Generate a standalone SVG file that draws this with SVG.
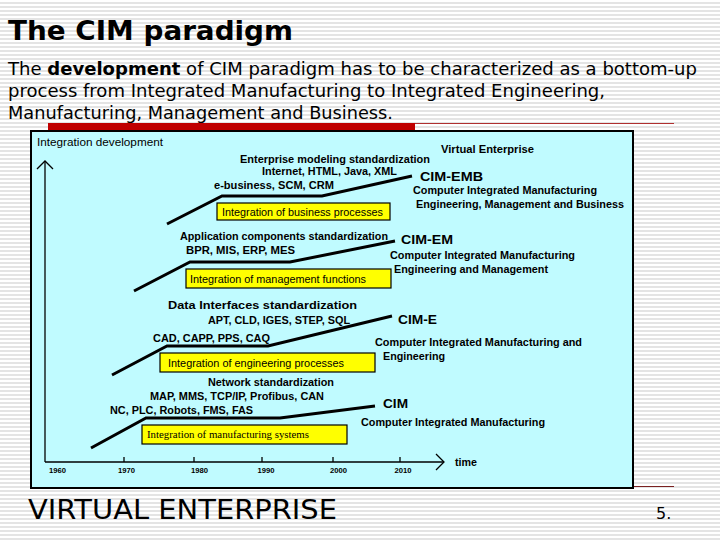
<svg xmlns="http://www.w3.org/2000/svg" width="720" height="540" viewBox="0 0 720 540">
<defs>
<pattern id="stripes" x="0" y="0" width="8" height="4" patternUnits="userSpaceOnUse">
<rect x="0" y="0" width="8" height="4" fill="#ffffff"/>
<rect x="0" y="2" width="8" height="2" fill="#e4e4e4"/>
</pattern>
</defs>
<style>
.head{font-family:"DejaVu Sans","Liberation Sans",sans-serif;fill:#000}
.lb{font-family:"Liberation Sans",Arial,sans-serif;font-weight:bold;font-size:10.5px;fill:#000}
.big{font-family:"Liberation Sans",Arial,sans-serif;font-weight:bold;font-size:13px;fill:#000}
.yr{font-family:"Liberation Sans",Arial,sans-serif;font-weight:bold;font-size:8px;fill:#000}
.nl{font-family:"Liberation Sans",Arial,sans-serif;font-size:10.5px;fill:#000}
.ybox{fill:#ffff00;stroke:#000;stroke-width:1.2}
.curve{fill:none;stroke:#000;stroke-width:3;stroke-linejoin:miter}
.axis{fill:none;stroke:#000;stroke-width:1.3}
</style>
<rect x="0" y="0" width="720" height="540" fill="url(#stripes)"/>
<text class="head" x="8" y="40" font-size="26" font-weight="bold" textLength="285" lengthAdjust="spacingAndGlyphs">The CIM paradigm</text>
<text class="head" x="8" y="75" font-size="17" textLength="689" lengthAdjust="spacingAndGlyphs">The <tspan font-weight="bold">development</tspan> of CIM paradigm has to be characterized as a bottom-up</text>
<text class="head" x="8" y="97" font-size="17" textLength="597" lengthAdjust="spacingAndGlyphs">process from Integrated Manufacturing to Integrated Engineering,</text>
<text class="head" x="8" y="119" font-size="17" textLength="385" lengthAdjust="spacingAndGlyphs">Manufacturing, Management and Business.</text>
<rect x="48" y="123" width="367" height="7" fill="#c00000"/>
<line x1="415" y1="123.5" x2="674" y2="123.5" stroke="#b03030" stroke-width="1"/>
<line x1="632" y1="486.5" x2="674" y2="486.5" stroke="#7a2020" stroke-width="1"/>
<rect id="panel" x="31" y="131" width="602" height="357" fill="#c0fbff" stroke="#000" stroke-width="2"/>

<g id="connectors">
<polyline class="curve" points="91,448 146,418 280,418 375,406"/>
<polyline class="curve" points="112,375 167,346 268,346 392,316"/>
<polyline class="curve" points="134,291 190,262 290,262 395,241"/>
<polyline class="curve" points="167,224 222,196 322,196 412,176"/>
</g>

<g id="axes">
<polyline class="axis" points="45,462 45,161"/>
<polyline class="axis" points="37,169 45,161 53,169"/>
<polyline class="axis" points="45,462 444,462"/>
<polyline class="axis" points="436,454 444,462 436,470"/>
<line class="axis" x1="124" y1="457" x2="124" y2="462"/>
<line class="axis" x1="194" y1="457" x2="194" y2="462"/>
<line class="axis" x1="262" y1="457" x2="262" y2="462"/>
<line class="axis" x1="333" y1="457" x2="333" y2="462"/>
<line class="axis" x1="400" y1="457" x2="400" y2="462"/>
<text class="yr" x="57.5" y="473" text-anchor="middle" textLength="17" lengthAdjust="spacingAndGlyphs">1960</text>
<text class="yr" x="126.5" y="473" text-anchor="middle" textLength="17" lengthAdjust="spacingAndGlyphs">1970</text>
<text class="yr" x="199.5" y="473" text-anchor="middle" textLength="17" lengthAdjust="spacingAndGlyphs">1980</text>
<text class="yr" x="266" y="473" text-anchor="middle" textLength="17" lengthAdjust="spacingAndGlyphs">1990</text>
<text class="yr" x="338.5" y="473" text-anchor="middle" textLength="17" lengthAdjust="spacingAndGlyphs">2000</text>
<text class="yr" x="403" y="473" text-anchor="middle" textLength="17" lengthAdjust="spacingAndGlyphs">2010</text>
<text class="lb" x="455" y="466" textLength="22" lengthAdjust="spacingAndGlyphs">time</text>
<text class="nl" x="37" y="146" textLength="126" lengthAdjust="spacingAndGlyphs">Integration development</text>
</g>

<g id="cim-emb">
<text class="lb" x="441" y="153" textLength="93" lengthAdjust="spacingAndGlyphs">Virtual  Enterprise</text>
<text class="lb" x="240" y="163" textLength="190" lengthAdjust="spacingAndGlyphs">Enterprise modeling standardization</text>
<text class="lb" x="262" y="175" textLength="135" lengthAdjust="spacingAndGlyphs">Internet, HTML, Java, XML</text>
<text class="lb" x="214" y="189" textLength="120" lengthAdjust="spacingAndGlyphs">e-business, SCM, CRM</text>
<text class="big" x="420" y="180.5" textLength="63" lengthAdjust="spacingAndGlyphs">CIM-EMB</text>
<text class="lb" x="413" y="194" textLength="184" lengthAdjust="spacingAndGlyphs">Computer Integrated Manufacturing</text>
<text class="lb" x="416" y="208" textLength="208" lengthAdjust="spacingAndGlyphs">Engineering, Management and Business</text>
<rect class="ybox" x="217" y="203" width="173" height="17"/>
<text class="nl" x="222" y="216" textLength="161" lengthAdjust="spacingAndGlyphs">Integration of business processes</text>
</g>

<g id="cim-em">
<text class="lb" x="180" y="240" textLength="208" lengthAdjust="spacingAndGlyphs">Application components standardization</text>
<text class="lb" x="186" y="254" textLength="109" lengthAdjust="spacingAndGlyphs">BPR, MIS,  ERP, MES</text>
<text class="big" x="401" y="244" textLength="52" lengthAdjust="spacingAndGlyphs">CIM-EM</text>
<text class="lb" x="390" y="259" textLength="185" lengthAdjust="spacingAndGlyphs">Computer Integrated Manufacturing</text>
<text class="lb" x="394" y="273" textLength="154" lengthAdjust="spacingAndGlyphs">Engineering and Management</text>
<rect class="ybox" x="186" y="269" width="205" height="19"/>
<text class="nl" x="190" y="283" textLength="176" lengthAdjust="spacingAndGlyphs">Integration of management functions</text>
</g>

<g id="cim-e">
<text class="lb" x="168" y="309" textLength="189" lengthAdjust="spacingAndGlyphs">Data Interfaces standardization</text>
<text class="lb" x="208" y="324" textLength="142" lengthAdjust="spacingAndGlyphs">APT, CLD, IGES, STEP, SQL</text>
<text class="big" x="398" y="324" textLength="39" lengthAdjust="spacingAndGlyphs">CIM-E</text>
<text class="lb" x="153" y="342" textLength="117" lengthAdjust="spacingAndGlyphs">CAD, CAPP, PPS, CAQ</text>
<text class="lb" x="375" y="346" textLength="207" lengthAdjust="spacingAndGlyphs">Computer Integrated Manufacturing and</text>
<text class="lb" x="383" y="360" textLength="62" lengthAdjust="spacingAndGlyphs">Engineering</text>
<rect class="ybox" x="160" y="353" width="215" height="19"/>
<text class="nl" x="168" y="367" textLength="176" lengthAdjust="spacingAndGlyphs">Integration of engineering processes</text>
</g>

<g id="cim">
<text class="lb" x="208" y="386" textLength="126" lengthAdjust="spacingAndGlyphs">Network standardization</text>
<text class="lb" x="150" y="400" textLength="174" lengthAdjust="spacingAndGlyphs">MAP, MMS, TCP/IP, Profibus, CAN</text>
<text class="lb" x="110" y="414" textLength="143" lengthAdjust="spacingAndGlyphs">NC, PLC, Robots, FMS, FAS</text>
<text class="big" x="383" y="408" textLength="25" lengthAdjust="spacingAndGlyphs">CIM</text>
<text class="lb" x="361" y="426" textLength="184" lengthAdjust="spacingAndGlyphs">Computer Integrated Manufacturing</text>
<rect class="ybox" x="142" y="425" width="205" height="19"/>
<text x="147" y="438" font-family="'Liberation Serif','Times New Roman',serif" font-size="11" textLength="162" lengthAdjust="spacingAndGlyphs">Integration of manufacturing systems</text>
</g>

<text class="head" x="28" y="519" font-size="27" textLength="309" lengthAdjust="spacingAndGlyphs">VIRTUAL ENTERPRISE</text>
<text class="head" x="656" y="519" font-size="16">5.</text>
</svg>
